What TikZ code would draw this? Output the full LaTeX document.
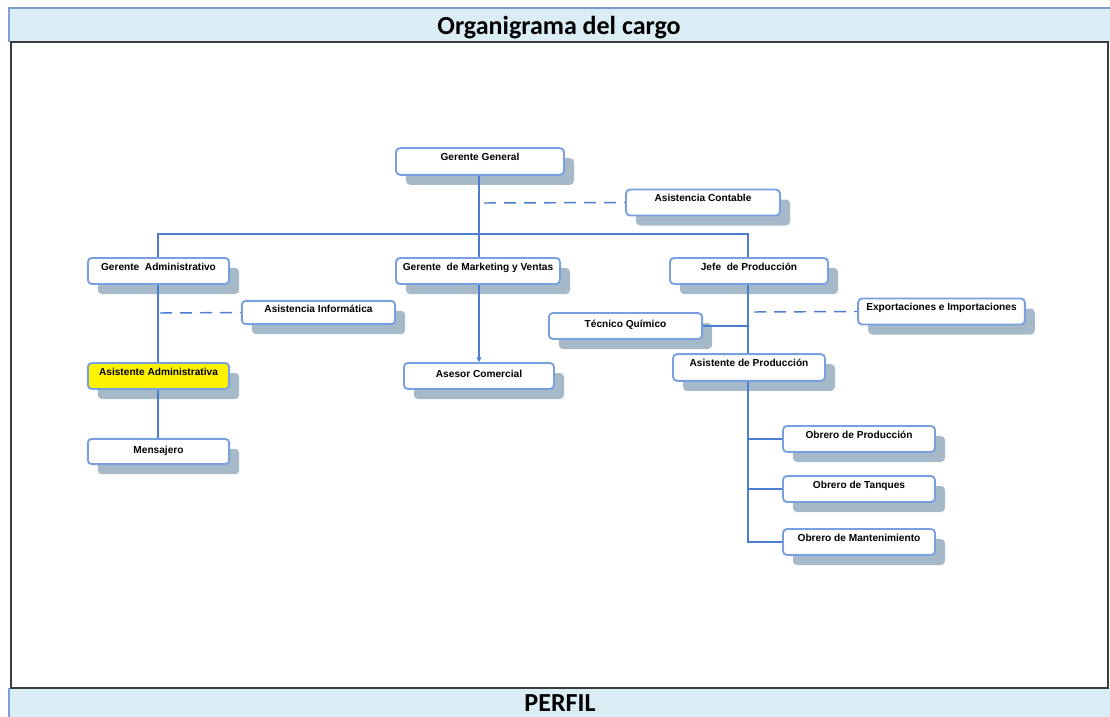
\documentclass[tikz,border=0pt]{standalone}
\usepackage{fontspec}
\setmainfont{Liberation Sans}
\newfontfamily\hdrfont{Carlito}
\usetikzlibrary{shadows,arrows.meta}

\definecolor{bandfill}{RGB}{218,237,244}
\definecolor{bandedge}{RGB}{120,160,210}
\definecolor{framec}{RGB}{60,60,60}
\definecolor{boxedge}{RGB}{120,160,225}
\definecolor{linkc}{RGB}{75,125,210}
\definecolor{shadowc}{RGB}{165,185,200}

\tikzset{
  post/.style={draw=boxedge, line width=1.4pt, fill=white, rounded corners=3pt,
    font=\fontsize{7.6}{8}\selectfont\bfseries, align=center,
    inner xsep=2pt, inner ysep=3pt, text height=6pt, text depth=7.5pt,
    drop shadow={shadow xshift=7.5pt, shadow yshift=-7.5pt, fill=shadowc, opacity=1}},
  link/.style={draw=linkc, line width=1.1pt},
  staff/.style={link, dash pattern=on 9pt off 6pt},
  hdr/.style={font=\hdrfont\fontsize{19.5}{22}\selectfont\bfseries}
}

\begin{document}
\begin{tikzpicture}[x=0.75pt, y=-0.75pt]
\useasboundingbox (0,0) rectangle (1110,717);

% header and footer bands
\fill[bandfill] (9,8) rectangle (1110,42);
\draw[bandedge, line width=1.2pt] (9,42) -- (9,8) -- (1110,8);
\fill[bandfill] (9,688) rectangle (1110,717);
\draw[bandedge, line width=1.2pt] (9,688) -- (9,717);
\draw[framec, line width=1.5pt] (11,42) rectangle (1108,688);
\node[hdr] (title) at (559,27.5) {Organigrama del cargo};
\node[hdr, inner ysep=1pt] (perfil) at (560,703) {PERFIL};

% posts
\node[post, minimum width=126pt, minimum height=20pt] (gg)  at (480,161.5) {Gerente General};
\node[post, minimum width=115.5pt, minimum height=19pt] (ac) at (703,202.5) {Asistencia Contable};
\node[post, minimum width=106pt, minimum height=19.5pt] (ga) at (158.5,271) {Gerente\ \ Administrativo};
\node[post, minimum width=123pt, minimum height=19.5pt] (gm) at (478,271) {Gerente\ \ de Marketing y Ventas};
\node[post, minimum width=118.5pt, minimum height=19.5pt] (jp) at (749,271) {Jefe\ \ de Producción};
\node[post, minimum width=115pt, minimum height=17.5pt, text depth=5.5pt] (ai) at (318.5,312.5) {Asistencia Informática};
\node[post, minimum width=115pt, minimum height=19.5pt, text height=8pt, text depth=5.5pt] (tq) at (625.5,326) {Técnico Químico};
\node[post, minimum width=125pt, minimum height=19pt] (ei) at (941.5,311.5) {Exportaciones e Importaciones};
\node[post, minimum width=114pt, minimum height=20pt] (ap) at (749,367.5) {Asistente de Producción};
\node[post, fill=yellow, minimum width=106pt, minimum height=19.5pt] (aa) at (158.5,376) {Asistente Administrativa};
\node[post, minimum width=112.5pt, minimum height=19.5pt, text height=8pt, text depth=5.5pt] (asc) at (479,376) {Asesor Comercial};
\node[post, minimum width=106pt, minimum height=19pt, text height=8pt, text depth=5pt] (me) at (158.5,451.5) {Mensajero};
\node[post, minimum width=114pt, minimum height=19.5pt] (op) at (859,439) {Obrero de Producción};
\node[post, minimum width=114pt, minimum height=19.5pt] (ot) at (859,489) {Obrero de Tanques};
\node[post, minimum width=114pt, minimum height=19.5pt] (om) at (859,542) {Obrero de Mantenimiento};

% reporting lines
\coordinate (bus) at (479,234);
\draw[link] (gg.south -| bus) -- (bus);
\draw[link] (ga.north -| 158,0) |- (bus) -| (jp.north -| 748,0);
\draw[link] (bus) -- (gm.north -| bus);
\draw[link, -{Stealth[length=4pt,width=4pt]}] (gm.south -| bus) -- (asc.north -| bus);
\draw[link] (ga.south -| 158,0) -- (aa.north -| 158,0);
\draw[link] (aa.south -| 158,0) -- (me.north -| 158,0);
\draw[link] (jp.south -| 748,0) -- (ap.north -| 748,0);
\draw[link] (tq.east) -- (tq.east -| 748,0);
\draw[link] (ap.south -| 748,0) |- (om.west);
\draw[link] (op.west -| 748,0) -- (op.west);
\draw[link] (ot.west -| 748,0) -- (ot.west);

% staff (advisory) lines
\draw[staff] (484,203) -- (ac.west);
\draw[staff] (160,313) -- (ai.west);
\draw[staff] (754,312) -- (ei.west);
\end{tikzpicture}
\end{document}
